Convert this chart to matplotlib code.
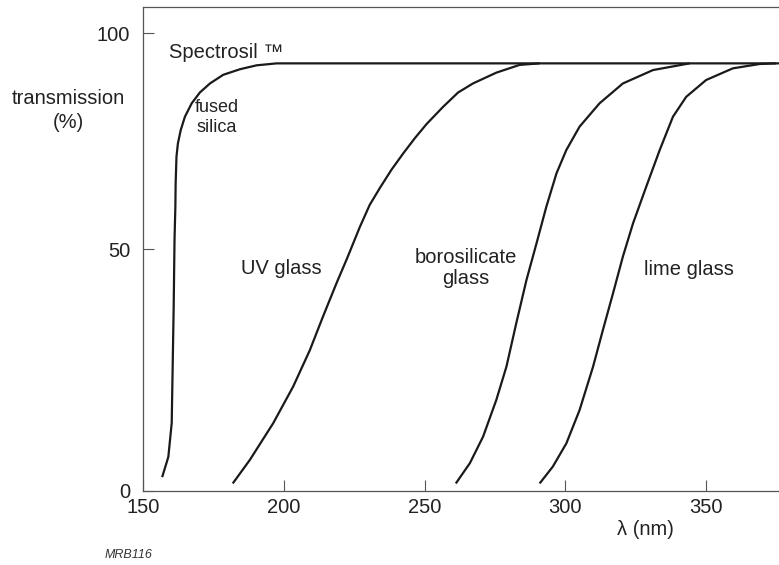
import numpy as np
import matplotlib
matplotlib.use('Agg')
import matplotlib.pyplot as plt

# wavelength (nm) / transmission (%)
silica_nm = [156.7, 158.9, 160.1, 160.4, 160.8, 161.1, 161.4, 161.5, 161.8, 162.3,
             163.3, 164.8, 167.2, 170.1, 173.7, 178.4, 184.4, 190.3, 197.4, 376.0]
silica_t = [2.8, 7.0, 14.0, 24.3, 38.1, 52.2, 59.9, 65.3, 71.5, 74.5,
            77.6, 80.7, 83.8, 86.3, 88.4, 90.4, 91.7, 92.6, 93.05, 93.05]

uv_nm = [181.8, 187.9, 196.2, 203.3, 209.2, 213.9, 218.7, 222.5, 227.0, 230.5,
         234.1, 238.2, 242.4, 246.5, 250.7, 256.6, 261.9, 267.2, 275.5, 283.8, 290.9]
uv_t = [1.5, 6.4, 14.0, 21.6, 29.1, 36.1, 43.0, 48.2, 55.2, 60.3,
        64.2, 68.4, 72.2, 75.7, 79.0, 83.0, 86.3, 88.4, 90.9, 92.7, 93.05]

boro_nm = [261.1, 266.1, 270.8, 275.5, 279.1, 282.6, 286.2, 289.8, 293.3, 296.9,
           300.4, 305.1, 312.2, 320.5, 331.2, 344.2]
boro_t = [1.5, 5.7, 11.2, 18.8, 25.7, 34.7, 43.6, 51.4, 59.9, 67.6,
          73.0, 78.4, 83.8, 88.4, 91.5, 93.05]

lime_nm = [290.9, 295.6, 300.4, 305.1, 309.9, 313.4, 317.0, 320.5, 324.1, 328.8,
           333.6, 338.3, 343.0, 350.1, 359.6, 369.1, 375.0]
lime_t = [1.5, 5.0, 9.8, 16.7, 25.7, 33.3, 40.9, 48.5, 56.0, 64.5,
          73.0, 80.7, 85.3, 89.2, 91.9, 92.9, 93.05]

xticks = [150, 200, 250, 300, 350]
yticks = [0, 50, 100]

# the printed y axis is not quite linear: 0-50 is longer than 50-100
Y_VALS = [-20, 0, 50, 100, 120]
Y_PIX = [-96.56, 0, 241.4, 457.4, 543.8]


def y_fwd(v):
    return np.interp(v, Y_VALS, Y_PIX)


def y_inv(p):
    return np.interp(p, Y_PIX, Y_VALS)


FONT = 'Liberation Sans'
INK = '#1a1a1a'
TEXT_COL = '#222222'
AXIS_COL = '#555555'
FS = 14.5

plt.rcParams['font.family'] = [FONT, 'DejaVu Sans']

fig = plt.figure(figsize=(7.79, 5.65), dpi=100)
ax = fig.add_axes([143.3 / 779, 1 - 490.7 / 565, (779 - 143.3) / 779, 483.7 / 565])

for xs, ys in [(silica_nm, silica_t), (uv_nm, uv_t), (boro_nm, boro_t), (lime_nm, lime_t)]:
    ax.plot(xs, ys, color=INK, lw=1.6, solid_joinstyle='round',
            solid_capstyle='butt', clip_on=False)

ax.set_yscale('function', functions=(y_fwd, y_inv))
ax.set_xlim(150, 376)
ax.set_ylim(0, 106.1)
ax.set_xticks(xticks)
ax.set_yticks(yticks)
ax.set_xticklabels([str(t) for t in xticks])
ax.set_yticklabels([str(t) for t in yticks])
ax.minorticks_off()
ax.tick_params(direction='in', length=8, width=0.8, color=AXIS_COL,
               labelsize=FS, labelcolor=TEXT_COL)
ax.tick_params(axis='y', pad=9.5)
ax.tick_params(axis='x', pad=5)

ax.spines['right'].set_visible(False)
for side in ['left', 'top', 'bottom']:
    ax.spines[side].set_color(AXIS_COL)
    ax.spines[side].set_linewidth(0.9)

# curve labels
txt = dict(color=TEXT_COL, fontsize=FS, ha='center', va='center')
ax.text(159.2, 94.2, 'Spectrosil ™', color=TEXT_COL, fontsize=FS,
        ha='left', va='baseline')
ax.text(176.1, 80.5, 'fused\nsilica', linespacing=1.2, **dict(txt, fontsize=13))
ax.text(199.2, 46.1, 'UV glass', **txt)
ax.text(264.6, 46.1, 'borosilicate\nglass', linespacing=1.15, **txt)
ax.text(343.9, 45.9, 'lime glass', **txt)

ax.text(328.6, -8.0, 'λ (nm)', **txt)

fig.text(68 / 779, 1 - 110.5 / 565, 'transmission\n(%)', ha='center', va='center',
         fontsize=FS, color=TEXT_COL, linespacing=1.3)
fig.text(105 / 779, 1 - 555 / 565, 'MRB116', ha='left', va='center',
         fontsize=9, style='italic', color='#333333')

fig.savefig('out.png', dpi=100)
